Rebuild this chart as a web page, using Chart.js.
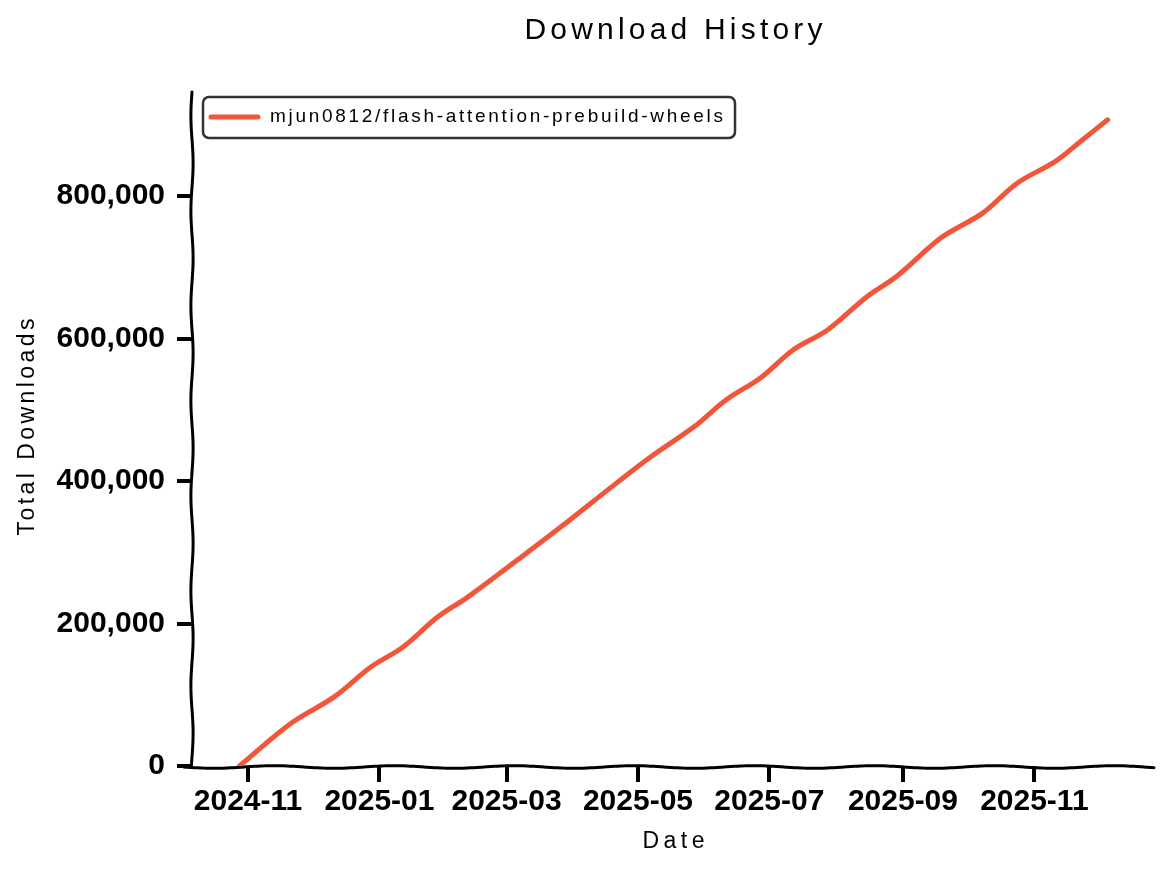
<!DOCTYPE html>
<html>
<head>
<meta charset="utf-8">
<title>Download History</title>
<script src="https://cdn.jsdelivr.net/npm/chart.js@4.4.1/dist/chart.umd.min.js"></script>
<style>
  html, body { margin: 0; padding: 0; background: #fff; }
  #wrap { width: 1167px; height: 871px; }
</style>
</head>
<body>
<div id="wrap"><canvas id="chart"></canvas></div>
<script>
// data
const dates = [
  '2024-10-28', '2024-11-21', '2024-12-11', '2024-12-28', '2025-01-12',
  '2025-01-28', '2025-02-11', '2025-03-06', '2025-03-26', '2025-04-21',
  '2025-05-07', '2025-05-27', '2025-06-11', '2025-06-27', '2025-07-12',
  '2025-07-28', '2025-08-15', '2025-08-29', '2025-09-19', '2025-10-08',
  '2025-10-24', '2025-11-11', '2025-11-23', '2025-12-05'
];
const downloads = [
  0, 60000, 97000, 139000, 167000,
  209000, 237000, 289000, 335000, 397000,
  434000, 476000, 514000, 545000, 584000,
  612000, 658000, 687000, 742000, 776000,
  818000, 849000, 878000, 907000
];
const xTickLabels = ['2024-11', '2025-01', '2025-03', '2025-05', '2025-07', '2025-09', '2025-11'];
const yTicks = [0, 200000, 400000, 600000, 800000];
const seriesName = 'mjun0812/flash-attention-prebuild-wheels';

const xMin = Date.parse('2024-10-06');
const xMax = Date.parse('2025-12-27');
const yMax = 946000;

const points = dates.map((d, i) => ({ x: Date.parse(d), y: downloads[i] }));

const FONT = '"Liberation Sans Narrow", "Liberation Sans", sans-serif';

// draw text stretched out to a given width with letter spacing
function spacedText(ctx, text, cx, cy, width) {
  ctx.letterSpacing = '0px';
  const w = ctx.measureText(text).width;
  const sp = Math.max(0, (width - w) / (text.length - 1));
  ctx.letterSpacing = sp + 'px';
  ctx.textAlign = 'left';
  ctx.textBaseline = 'middle';
  ctx.fillText(text, cx - width / 2, cy);
  ctx.letterSpacing = '0px';
}

function wavyLine(ctx, x0, y0, x1, y1, amp, period) {
  const len = Math.hypot(x1 - x0, y1 - y0);
  const nx = -(y1 - y0) / len, ny = (x1 - x0) / len;
  ctx.beginPath();
  for (let t = 0; t <= len; t += 2) {
    const off = amp * Math.sin(t / period * Math.PI * 2);
    const px = x0 + (x1 - x0) * t / len + nx * off;
    const py = y0 + (y1 - y0) * t / len + ny * off;
    if (t === 0) ctx.moveTo(px, py); else ctx.lineTo(px, py);
  }
  ctx.stroke();
}

const decor = {
  id: 'decor',
  beforeDatasetsDraw(chart) {
    const { ctx, chartArea: a } = chart;
    ctx.save();
    ctx.strokeStyle = '#000';
    ctx.lineWidth = 3;
    ctx.lineCap = 'round';
    wavyLine(ctx, a.left, a.top, a.left, a.bottom, 1.1, 95);
    wavyLine(ctx, a.left - 8, a.bottom + 1, a.right, a.bottom + 1, 1.3, 120);
    ctx.restore();
  },
  afterDraw(chart) {
    const { ctx, chartArea: a } = chart;
    ctx.save();
    ctx.fillStyle = '#000';

    // title
    ctx.font = '30px ' + FONT;
    spacedText(ctx, 'Download History', (a.left + a.right) / 2, 31, 298);

    // axis labels
    ctx.font = '23px ' + FONT;
    spacedText(ctx, 'Date', (a.left + a.right) / 2, 842, 62);
    ctx.save();
    ctx.translate(28, 427);
    ctx.rotate(-Math.PI / 2);
    spacedText(ctx, 'Total Downloads', 0, 0, 217);
    ctx.restore();

    // legend
    const lx = a.left + 11, ly = a.top + 5, lw = 532, lh = 41;
    ctx.beginPath();
    ctx.roundRect(lx, ly, lw, lh, 6);
    ctx.fillStyle = '#fff';
    ctx.fill();
    ctx.strokeStyle = '#333';
    ctx.lineWidth = 2.5;
    ctx.stroke();
    ctx.strokeStyle = chart.data.datasets[0].borderColor;
    ctx.lineWidth = 5;
    ctx.lineCap = 'round';
    ctx.beginPath();
    ctx.moveTo(lx + 8, ly + 20);
    ctx.lineTo(lx + 55, ly + 20);
    ctx.stroke();
    ctx.fillStyle = '#000';
    ctx.font = '19px ' + FONT;
    spacedText(ctx, chart.data.datasets[0].label, lx + 67 + 453 / 2, ly + 20, 453);
    ctx.restore();
  }
};

new Chart(document.getElementById('chart'), {
  type: 'line',
  data: {
    datasets: [{
      label: seriesName,
      data: points,
      borderColor: '#f1553a',
      borderWidth: 5,
      borderCapStyle: 'round',
      pointRadius: 0,
      tension: 0.35,
      fill: false
    }]
  },
  options: {
    responsive: true,
    maintainAspectRatio: false,
    animation: false,
    devicePixelRatio: 1,
    layout: { padding: { top: 92, right: 12, left: 0, bottom: 0 } },
    plugins: {
      legend: { display: false },
      title: { display: false },
      tooltip: { enabled: false }
    },
    scales: {
      x: {
        type: 'linear',
        min: xMin,
        max: xMax,
        afterFit: s => { s.height = 105; },
        afterBuildTicks: s => { s.ticks = xTickLabels.map(l => ({ value: Date.parse(l + '-01') })); },
        border: { display: false },
        grid: { display: true, drawOnChartArea: false, drawTicks: true, tickLength: 16, lineWidth: 4, color: '#000' },
        ticks: {
          color: '#000',
          padding: 2,
          maxRotation: 0,
          font: { family: FONT, size: 30, weight: 'bold' },
          callback: v => {
            const d = new Date(v);
            return d.getUTCFullYear() + '-' + String(d.getUTCMonth() + 1).padStart(2, '0');
          }
        }
      },
      y: {
        min: 0,
        max: yMax,
        afterFit: s => { s.width = 192; },
        afterBuildTicks: s => { s.ticks = yTicks.map(v => ({ value: v })); },
        border: { display: false },
        grid: { display: true, drawOnChartArea: false, drawTicks: true, tickLength: 15, lineWidth: 4, color: '#000' },
        ticks: {
          color: '#000',
          padding: 12,
          font: { family: FONT, size: 30, weight: 'bold' },
          callback: v => v.toLocaleString('en-US')
        }
      }
    }
  },
  plugins: [decor]
});
</script>
</body>
</html>
